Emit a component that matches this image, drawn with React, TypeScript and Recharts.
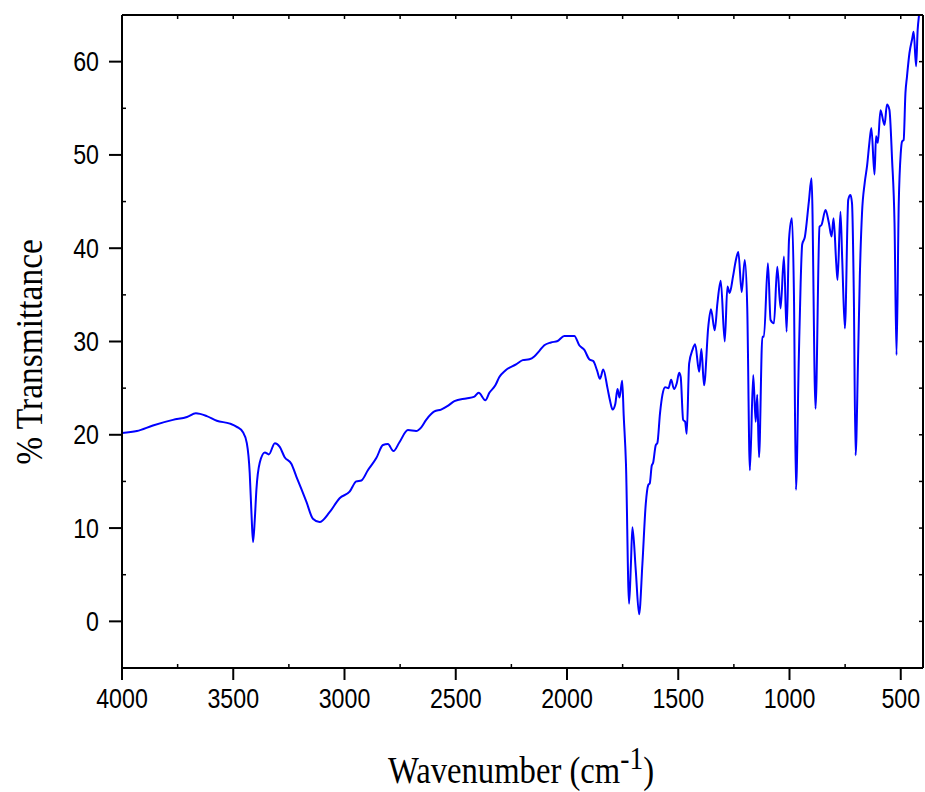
import React from 'react';
import { LineChart, Line, XAxis, YAxis } from 'recharts';

const wavenumbers = [
  4000, 3933, 3861, 3771, 3708, 3668, 3619, 3574, 3515, 3484, 3457, 3439, 3426, 3418, 3411, 3403, 3396, 3381,
  3358, 3340, 3313, 3291, 3269, 3239, 3216, 3194, 3171, 3142, 3112, 3067, 3022, 2977, 2947, 2924, 2895, 2857,
  2827, 2805, 2780, 2753, 2715, 2678, 2655, 2633, 2596, 2566, 2536, 2506, 2453, 2416, 2397, 2367, 2349, 2322,
  2304, 2277, 2229, 2199, 2169, 2147, 2124, 2102, 2072, 2042, 2012, 1990, 1967, 1945, 1922, 1900, 1882, 1865,
  1852, 1837, 1818, 1807, 1795, 1783, 1773, 1764, 1752, 1745, 1735, 1721, 1713, 1706, 1691, 1676, 1661, 1646,
  1635, 1628, 1619, 1613, 1601, 1594, 1582, 1571, 1559, 1544, 1532, 1519, 1507, 1496, 1489, 1478, 1469, 1462,
  1451, 1436, 1424, 1406, 1396, 1384, 1365, 1353, 1336, 1324, 1309, 1291, 1279, 1269, 1254, 1242, 1230, 1215,
  1201, 1190, 1178, 1163, 1152, 1145, 1137, 1122, 1115, 1097, 1085, 1070, 1055, 1040, 1025, 1013, 1002, 989,
  980, 971, 958, 950, 943, 931, 913, 901, 883, 865, 856, 838, 823, 811, 802, 790, 784, 771, 763, 751, 736, 726,
  719, 711, 703, 692, 684, 674, 662, 651, 641, 632, 618, 611, 603, 591, 573, 562, 551, 539, 528, 519, 509, 500,
  494, 487, 479, 472, 461, 449, 442, 431, 424, 416, 410,
];

const transmittance = [
  20.2, 20.4, 21.0, 21.6, 21.9, 22.3, 22.0, 21.5, 21.2, 20.85, 20.3, 19.1, 15.9, 11.5, 8.5, 11.0, 14.1, 17.0,
  18.1, 17.9, 19.1, 18.7, 17.6, 16.9, 15.5, 14.2, 12.8, 11.0, 10.65, 11.7, 13.2, 13.9, 15.0, 15.1, 16.2, 17.5,
  18.9, 19.0, 18.25, 19.2, 20.5, 20.4, 20.8, 21.6, 22.5, 22.7, 23.1, 23.6, 23.9, 24.1, 24.5, 23.7, 24.5, 25.3,
  26.2, 26.9, 27.55, 28.0, 28.1, 28.4, 29.0, 29.6, 29.9, 30.05, 30.6, 30.6, 30.6, 29.6, 29.1, 28.1, 27.9, 26.9,
  26.0, 27.0, 25.0, 23.7, 22.7, 23.3, 24.9, 24.0, 25.8, 22.0, 16.9, 1.9, 6.0, 10.1, 5.5, 0.75, 6.2, 12.6,
  14.6, 14.8, 16.7, 17.0, 18.9, 19.1, 22.3, 24.3, 25.1, 25.0, 25.9, 24.9, 25.5, 26.65, 26.2, 21.6, 21.4, 20.1,
  27.65, 29.1, 29.7, 26.75, 29.2, 25.3, 31.6, 33.45, 31.2, 34.1, 36.5, 30.0, 35.9, 35.2, 36.95, 38.6, 39.6, 35.3,
  38.75, 33.7, 16.2, 26.4, 21.4, 24.3, 17.6, 30.5, 30.5, 38.4, 32.3, 31.95, 38.0, 33.55, 39.1, 31.05, 41.0, 43.2,
  35.0, 14.1, 28.4, 36.2, 40.4, 41.2, 45.0, 47.5, 22.8, 42.3, 42.5, 44.1, 42.7, 41.25, 43.2, 38.4, 36.6, 43.9, 38.75, 31.4, 45.2, 45.7,
  44.8, 35.2, 17.8, 28.0, 36.95, 43.8, 47.0, 48.9, 51.3, 52.9, 47.9, 52.0, 51.3, 54.8, 53.2, 55.4, 54.85, 49.5, 42.7, 28.55, 44.8, 50.2,
  51.45, 51.6, 56.6, 58.4, 60.9, 62.4, 63.2, 59.5, 63.4, 65.5, 68.0,
];

const xTicks = [4000, 3750, 3500, 3250, 3000, 2750, 2500, 2250, 2000, 1750, 1500, 1250, 1000, 750, 500];
const yTicks = [0, 5, 10, 15, 20, 25, 30, 35, 40, 45, 50, 55, 60];

const data = wavenumbers.map((w, i) => ({ wn: w, t: transmittance[i] }));

const TICK_FONT = "'Liberation Sans', Arial, sans-serif";
const TITLE_FONT = "'Liberation Serif', 'Times New Roman', serif";

const BottomTick = (props: any) => {
  const { x, y, payload } = props;
  const v = payload.value;
  const major = v % 500 === 0;
  if (!major) {
    return <line x1={x} y1={y} x2={x} y2={y - 4} stroke="#000" strokeWidth={1.5} />;
  }
  return (
    <g>
      <line x1={x} y1={y} x2={x} y2={y + 12} stroke="#000" strokeWidth={2} />
      <text
        transform={`translate(${x}, ${y + 39.5}) scale(0.86, 1)`}
        textAnchor="middle"
        fontFamily={TICK_FONT}
        fontSize={27}
        fill="#000"
      >
        {v}
      </text>
    </g>
  );
};

const LeftTick = (props: any) => {
  const { x, y, payload } = props;
  const v = payload.value;
  const major = v % 10 === 0;
  if (!major) {
    return <line x1={x} y1={y} x2={x + 4} y2={y} stroke="#000" strokeWidth={1.5} />;
  }
  return (
    <g>
      <line x1={x} y1={y} x2={x - 13} y2={y} stroke="#000" strokeWidth={2} />
      <text
        transform={`translate(${x - 23}, ${y + 9.5}) scale(0.86, 1)`}
        textAnchor="end"
        fontFamily={TICK_FONT}
        fontSize={27}
        fill="#000"
      >
        {v}
      </text>
    </g>
  );
};

const TopTick = (props: any) => {
  const { x, y } = props;
  return <line x1={x} y1={y} x2={x} y2={y + 4} stroke="#000" strokeWidth={1.5} />;
};

const RightTick = (props: any) => {
  const { x, y } = props;
  return <line x1={x} y1={y} x2={x - 4} y2={y} stroke="#000" strokeWidth={1.5} />;
};

export default function App() {
  return (
    <div style={{ position: 'absolute', left: 0, top: 0, width: 925, height: 792, background: '#fff' }}>
      <LineChart width={925} height={792} data={data} margin={{ top: 15, right: 2, left: 0, bottom: 0 }}>
        <XAxis
          xAxisId="bottom"
          dataKey="wn"
          type="number"
          domain={[400, 4000]}
          reversed
          allowDataOverflow
          ticks={xTicks}
          interval={0}
          height={124}
          tickSize={0}
          tickMargin={0}
          tick={<BottomTick />}
          axisLine={{ stroke: '#000', strokeWidth: 2 }}
          tickLine={false}
        />
        <XAxis
          xAxisId="top"
          dataKey="wn"
          type="number"
          orientation="top"
          mirror
          domain={[400, 4000]}
          reversed
          allowDataOverflow
          ticks={xTicks}
          interval={0}
          tickSize={0}
          tickMargin={0}
          tick={<TopTick />}
          axisLine={{ stroke: '#000', strokeWidth: 2 }}
          tickLine={false}
        />
        <YAxis
          yAxisId="left"
          type="number"
          domain={[-5, 65]}
          allowDataOverflow
          ticks={yTicks}
          interval={0}
          width={122}
          tickSize={0}
          tickMargin={0}
          tick={<LeftTick />}
          axisLine={{ stroke: '#000', strokeWidth: 2 }}
          tickLine={false}
        />
        <YAxis
          yAxisId="right"
          type="number"
          orientation="right"
          mirror
          domain={[-5, 65]}
          allowDataOverflow
          ticks={yTicks}
          interval={0}
          tickSize={0}
          tickMargin={0}
          tick={<RightTick />}
          axisLine={{ stroke: '#000', strokeWidth: 2 }}
          tickLine={false}
        />
        <Line
          xAxisId="bottom"
          yAxisId="left"
          dataKey="t"
          type="monotoneX"
          stroke="#0000ff"
          strokeWidth={2}
          dot={false}
          isAnimationActive={false}
        />
      </LineChart>
      <svg width={925} height={792} style={{ position: 'absolute', left: 0, top: 0, pointerEvents: 'none' }}>
        <text
          transform="translate(42, 352) rotate(-90) scale(0.88, 1)"
          textAnchor="middle"
          fontFamily={TITLE_FONT}
          fontSize={38}
          fill="#000"
        >
          % Transmittance
        </text>
        <text
          transform="translate(521, 783) scale(0.86, 1)"
          textAnchor="middle"
          fontFamily={TITLE_FONT}
          fontSize={38}
          fill="#000"
        >
          <tspan>Wavenumber (cm</tspan>
          <tspan fontSize={32} dy={-14}>-1</tspan>
          <tspan dy={14}>)</tspan>
        </text>
      </svg>
    </div>
  );
}
